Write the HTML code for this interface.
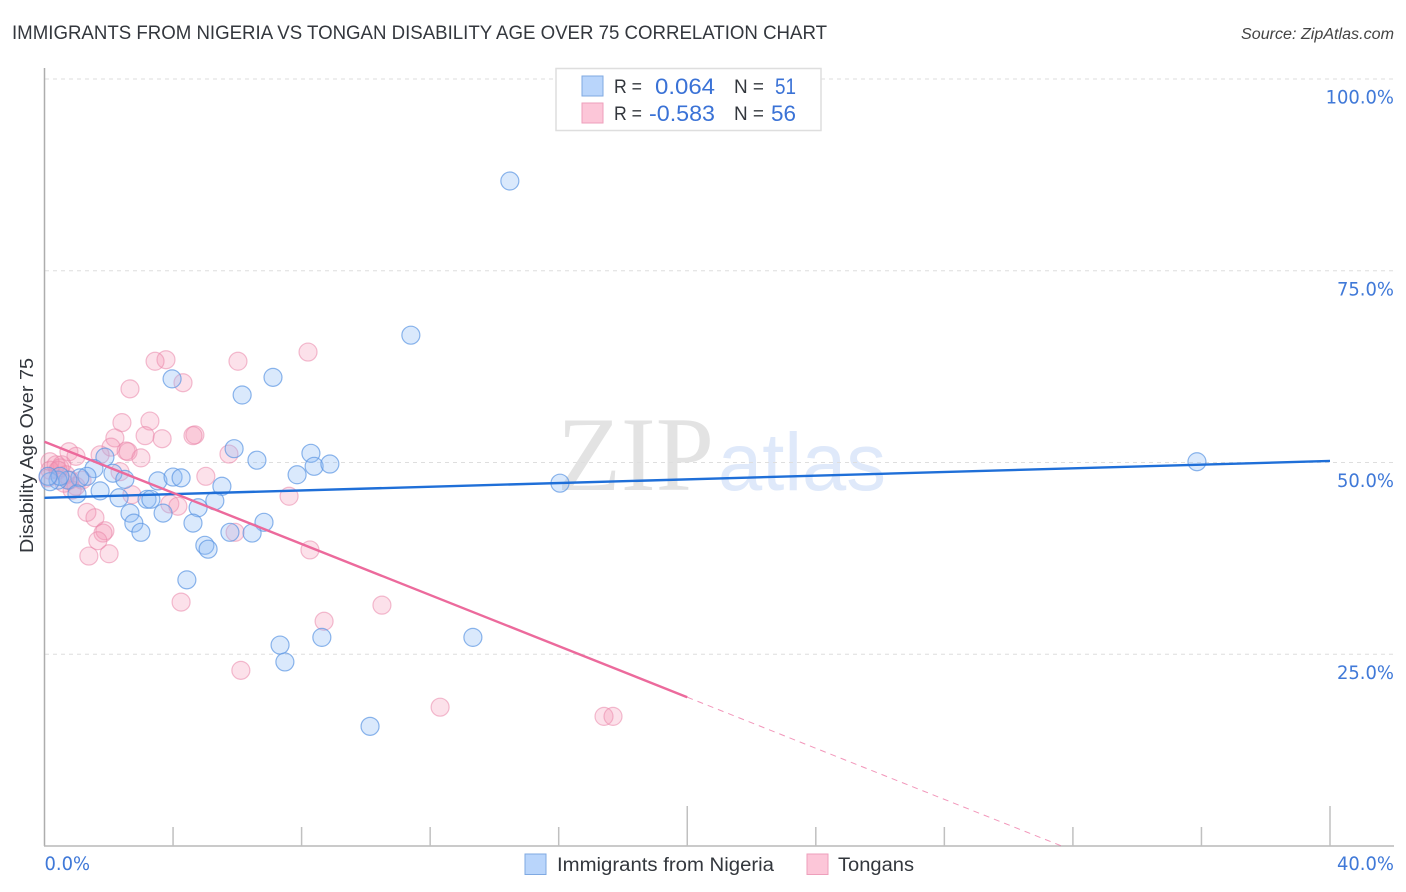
<!DOCTYPE html>
<html lang="en">
<head>
<meta charset="utf-8">
<title>Immigrants from Nigeria vs Tongan Disability Age Over 75 Correlation Chart</title>
<style>
html,body{margin:0;padding:0;background:#fff;width:1406px;height:892px;overflow:hidden}
svg{display:block}
text{font-family:"Liberation Sans",sans-serif}
</style>
</head>
<body>
<svg id="chart" xmlns="http://www.w3.org/2000/svg" width="1406" height="892" viewBox="0 0 1406 892">
  <text x="12" y="39" font-size="19" fill="#33373d" textLength="815" lengthAdjust="spacingAndGlyphs">IMMIGRANTS FROM NIGERIA VS TONGAN DISABILITY AGE OVER 75 CORRELATION CHART</text>
  <text x="1241" y="39" font-size="15.5" font-style="italic" fill="#444" textLength="153" lengthAdjust="spacingAndGlyphs">Source: ZipAtlas.com</text>

  <g id="watermark">
    <text x="557" y="490" font-size="106" fill="#e3e3e3" textLength="157" lengthAdjust="spacingAndGlyphs" style="font-family:'Liberation Serif',serif">ZIP</text>
    <text x="718" y="490" font-size="82" fill="#dfe9fa" textLength="168" lengthAdjust="spacingAndGlyphs">atlas</text>
  </g>

  <g id="grid"></g>
  <g id="axes"></g>
  <g id="pink-points"></g>
  <g id="blue-points"></g>
  <g id="trends"></g>

  <text transform="translate(33,553) rotate(-90)" x="0" y="0" font-size="18" fill="#33373d" textLength="195" lengthAdjust="spacingAndGlyphs">Disability Age Over 75</text>

  <g>
    <rect x="556" y="68.500" width="265" height="62" fill="#fff" stroke="#dedede" stroke-width="1.500"/>
    <rect x="582" y="76" width="21" height="20" fill="#b9d5fb" stroke="#7fa9e2" stroke-width="1"/>
    <rect x="582" y="103" width="21" height="20" fill="#fcc6d8" stroke="#ee9fbb" stroke-width="1"/>
    <text x="614" y="93" font-size="19" fill="#33373d" textLength="28" lengthAdjust="spacingAndGlyphs">R =</text>
    <text x="655" y="94" font-size="22.500" fill="#3a72d6" textLength="60" lengthAdjust="spacingAndGlyphs">0.064</text>
    <text x="734" y="93" font-size="19" fill="#33373d" textLength="30" lengthAdjust="spacingAndGlyphs">N =</text>
    <text x="775" y="94" font-size="22.500" fill="#3a72d6" textLength="21" lengthAdjust="spacingAndGlyphs">51</text>
    <text x="614" y="120" font-size="19" fill="#33373d" textLength="28" lengthAdjust="spacingAndGlyphs">R =</text>
    <text x="649" y="121" font-size="22.500" fill="#3a72d6" textLength="66" lengthAdjust="spacingAndGlyphs">-0.583</text>
    <text x="734" y="120" font-size="19" fill="#33373d" textLength="30" lengthAdjust="spacingAndGlyphs">N =</text>
    <text x="771" y="121" font-size="22.500" fill="#3a72d6" textLength="25" lengthAdjust="spacingAndGlyphs">56</text>
  </g>

  <g>
    <rect x="525" y="854" width="21" height="20.500" fill="#b9d5fb" stroke="#7fa9e2" stroke-width="1"/>
    <text x="557" y="871" font-size="19" fill="#33373d" textLength="217" lengthAdjust="spacingAndGlyphs">Immigrants from Nigeria</text>
    <rect x="807" y="854" width="21" height="20.500" fill="#fcc6d8" stroke="#ee9fbb" stroke-width="1"/>
    <text x="838" y="871" font-size="19" fill="#33373d" textLength="76" lengthAdjust="spacingAndGlyphs">Tongans</text>
  </g>
</svg>
<script>
// Chart data (x = % immigrants from Nigeria / Tongans, y = disability age over 75 %)
const nigeriaX = [14.48,11.40,7.11,3.97,6.15,5.90,8.29,6.61,8.39,8.88,7.86,35.86,16.04,1.88,1.54,2.13,1.32,2.50,1.10,0.73,0.42,0.17,1.73,3.53,4.00,4.25,5.52,2.32,3.19,3.31,1.01,5.30,4.78,2.66,3.69,2.78,4.62,6.83,3.00,5.77,6.46,4.99,5.09,4.43,7.33,8.63,13.33,7.48,10.13,0.48,0.11];
const nigeriaY = [86.7,66.6,61.1,60.9,58.8,51.8,51.2,50.3,49.5,49.8,48.4,50.1,47.3,50.7,49.2,48.6,48.2,47.8,48.0,47.7,47.7,47.5,46.3,47.6,48.1,48.0,46.9,45.4,45.2,45.2,45.9,45.0,44.1,43.4,43.4,42.1,42.1,42.2,40.9,40.9,40.8,39.2,38.7,34.7,26.2,27.2,27.2,24.0,15.6,48.2,48.2];
const tongansX = [8.20,3.78,3.44,6.02,4.31,2.66,3.28,2.41,4.68,4.62,3.13,3.66,2.19,2.07,2.54,2.60,3.00,1.73,5.74,0.76,0.98,5.02,2.35,7.61,2.72,3.90,4.15,1.32,1.57,1.88,1.82,1.66,8.26,1.38,2.01,4.25,10.50,8.70,6.11,12.31,17.41,17.69,5.93,0.17,0.36,0.54,0.17,0.42,0.67,0.79,0.98,1.17,0.48,0.86,0.61,0.11];
const tongansY = [64.4,63.4,63.2,63.2,60.4,59.6,55.4,55.2,53.6,53.5,53.5,53.1,53.2,52.0,51.5,51.4,50.6,51.0,51.1,51.4,50.8,48.2,48.8,45.6,45.8,44.6,44.3,43.5,42.8,41.1,40.8,39.8,38.6,37.8,38.1,31.8,31.4,29.3,22.9,18.1,16.9,16.9,40.9,50.1,49.7,49.7,49.0,49.0,48.4,47.7,46.9,47.7,49.3,46.4,47.3,48.0];
const nigeriaTrend = [45.4, 50.2];      // y at x = 0 and x = 40
const tongansTrend = [52.7, -1.665];    // intercept, slope
const tongansSolidEnd = 20;             // solid up to here, dashed after
const yTicks = [25, 50, 75, 100];
const yTickLabels = ["25.0%", "50.0%", "75.0%", "100.0%"];
const xTicks = [0, 4, 8, 12, 16, 20, 24, 28, 32, 36, 40];
const xMajorTicks = [20, 40];
const xEndValues = [0, 40];
const xEndLabels = ["0.0%", "40.0%"];

const NS = "http://www.w3.org/2000/svg";
const sx = v => 44.5 + v * (1330 - 44.5) / 40;
const sy = v => 846 - v * (846 - 79) / 100;
function mk(tag, parent, attrs) {
  const el = document.createElementNS(NS, tag);
  for (const k in attrs) el.setAttribute(k, attrs[k]);
  parent.appendChild(el);
  return el;
}
function fitTick(lb) {
  const w = lb.getComputedTextLength();
  lb.setAttribute("textLength", w * 0.97);
  lb.setAttribute("lengthAdjust", "spacingAndGlyphs");
}
const grid = document.getElementById("grid");
const axes = document.getElementById("axes");
const tickStyle = "font-family:'DejaVu Sans',sans-serif;font-size:18.5px";

yTicks.forEach(function (t, i) {
  const ln = mk("line", grid, {x1: 45, x2: 1394, y1: sy(t), y2: sy(t), stroke: "#dedede", "stroke-width": 1, "stroke-dasharray": "4 4"});
  
  
  const lb = mk("text", axes, {x: 1394, y: sy(t) + 24.5, fill: "#4079d8", "text-anchor": "end", style: tickStyle});
  lb.textContent = yTickLabels[i];
  
  
  fitTick(lb);
});

const yAxis = mk("line", axes, {x1: 44.5, x2: 44.5, y1: 68, y2: 846, stroke: "#adadad", "stroke-width": 1.5});


const xAxis = mk("line", axes, {x1: 44, x2: 1394, y1: 846, y2: 846, stroke: "#b8b8b8", "stroke-width": 1.5});



xTicks.slice(1).forEach(function (t) {
  const top = xMajorTicks.indexOf(t) >= 0 ? 806 : 827;
  const tk = mk("line", axes, {x1: sx(t), x2: sx(t), y1: top, y2: 846, stroke: "#c0c0c0", "stroke-width": 1.5});
  
  
});

xEndValues.forEach(function (t, i) {
  const lb = mk("text", axes, {y: 870, fill: "#4079d8", style: tickStyle});
  if (i === 0) { lb.setAttribute("x", sx(t)); }
  else { lb.setAttribute("x", 1394); lb.setAttribute("text-anchor", "end"); }
  lb.textContent = xEndLabels[i];
  
  
  fitTick(lb);
});

const pinkG = document.getElementById("pink-points");
tongansX.forEach(function (x, i) {
  const c = mk("circle", pinkG, {cx: sx(x), cy: sy(tongansY[i]), r: 9, fill: "#f48fb1", "fill-opacity": 0.27, stroke: "#ea86a9", "stroke-opacity": 0.55, "stroke-width": 1.2});
  
  
});
const blueG = document.getElementById("blue-points");
nigeriaX.forEach(function (x, i) {
  const c = mk("circle", blueG, {cx: sx(x), cy: sy(nigeriaY[i]), r: 9, fill: "#90bdf5", "fill-opacity": 0.33, stroke: "#5b96e2", "stroke-opacity": 0.7, "stroke-width": 1.2});
  
  
});

const trends = document.getElementById("trends");
const blueLine = mk("line", trends, {x1: sx(0), y1: sy(nigeriaTrend[0]), x2: sx(40), y2: sy(nigeriaTrend[1]), stroke: "#1f6fd8", "stroke-width": 2.4});


const pinkAt = x => tongansTrend[0] + tongansTrend[1] * x;
const pinkLine = mk("line", trends, {x1: sx(0), y1: sy(pinkAt(0)), x2: sx(tongansSolidEnd), y2: sy(pinkAt(tongansSolidEnd)), stroke: "#ec6a9c", "stroke-width": 2.4});


const zeroX = -tongansTrend[0] / tongansTrend[1];
const pinkDash = mk("line", trends, {x1: sx(tongansSolidEnd), y1: sy(pinkAt(tongansSolidEnd)), x2: sx(zeroX), y2: sy(0), stroke: "#ec6a9c", "stroke-width": 1, "stroke-dasharray": "6 5", "stroke-opacity": 0.7});


</script>
</body>
</html>
